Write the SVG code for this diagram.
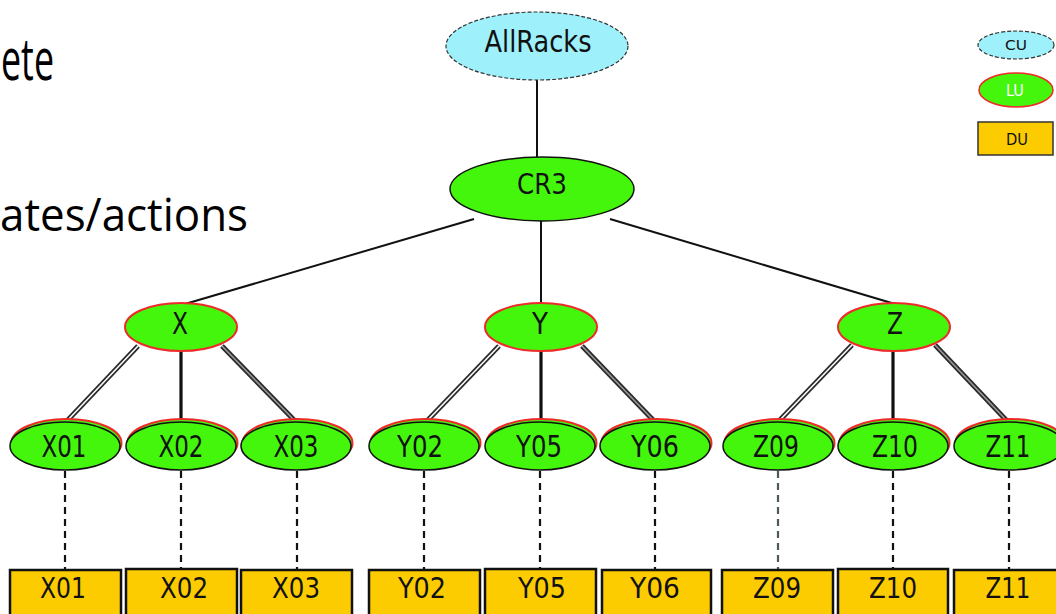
<svg xmlns="http://www.w3.org/2000/svg" width="1056" height="614" viewBox="0 0 1056 614">
<style>
.bg{fill:#ffffff}
.big{font-family:"Open Sans","Noto Sans",sans-serif;fill:#000}
.lbl{font-family:"DejaVu Sans",sans-serif;fill:#111;text-anchor:middle}
.cu{fill:#9ef0fb;stroke:#333;stroke-width:1.2;stroke-dasharray:4 2}
.cr{fill:#44f60c;stroke:#111;stroke-width:1.5}
.lu{fill:#44f60c;stroke:#ee2a2a;stroke-width:2}
.leafr{fill:#44f60c;stroke:#ee2a2a;stroke-width:2}
.leaf{fill:#44f60c;stroke:#111;stroke-width:1.5}
.du{fill:#fdcc00;stroke:#111;stroke-width:2.5}
.solid{stroke:#111;stroke-width:2;fill:none}
.thick{stroke:#111;stroke-width:3.2;fill:none}
.dblo{stroke:#2a2a2a;stroke-width:5;fill:none}
.dbli{stroke:#ffffff;stroke-width:1.6;fill:none}
.dbli2{stroke:#9a9a9a;stroke-width:1.6;fill:none}
.dash{stroke:#111;stroke-width:2.2;stroke-dasharray:7 5;fill:none}
</style>
<rect class="bg" x="0" y="0" width="1056" height="614"/>

<g id="slide-text">
<text class="big" x="1" y="80" font-size="58" textLength="53" lengthAdjust="spacingAndGlyphs">ete</text>
<text class="big" x="0" y="231" font-size="46" textLength="248" lengthAdjust="spacingAndGlyphs">ates/actions</text>
</g>

<g id="connectors">
<line class="solid" x1="537" y1="80" x2="537" y2="158"/>
<line class="solid" x1="474" y1="219" x2="185" y2="304"/>
<line class="solid" x1="541" y1="220" x2="541" y2="304"/>
<line class="solid" x1="610" y1="219" x2="895" y2="304"/>
<!-- X -->
<line class="dblo" x1="138" y1="346" x2="66" y2="422"/>
<line class="dbli" x1="138" y1="346" x2="66" y2="422"/>
<line class="thick" x1="181" y1="351" x2="181" y2="423"/>
<line class="dblo" x1="222" y1="346" x2="296" y2="422"/>
<line class="dbli2" x1="222" y1="346" x2="296" y2="422"/>
<!-- Y -->
<line class="dblo" x1="499" y1="346" x2="426" y2="422"/>
<line class="dbli" x1="499" y1="346" x2="426" y2="422"/>
<line class="thick" x1="541" y1="351" x2="541" y2="423"/>
<line class="dblo" x1="582" y1="346" x2="655" y2="422"/>
<line class="dbli2" x1="582" y1="346" x2="655" y2="422"/>
<!-- Z -->
<line class="dblo" x1="852" y1="345" x2="778" y2="422"/>
<line class="dbli" x1="852" y1="345" x2="778" y2="422"/>
<line class="thick" x1="893" y1="351" x2="893" y2="423"/>
<line class="dblo" x1="935" y1="345" x2="1008" y2="422"/>
<line class="dbli2" x1="935" y1="345" x2="1008" y2="422"/>
<!-- dashed to DUs -->
<line class="dash" x1="65" y1="471" x2="65" y2="570"/>
<line class="dash" x1="181" y1="471" x2="181" y2="569"/>
<line class="dash" x1="297" y1="471" x2="297" y2="570"/>
<line class="dash" x1="424" y1="471" x2="424" y2="570"/>
<line class="dash" x1="540" y1="471" x2="540" y2="569"/>
<line class="dash" x1="655" y1="471" x2="655" y2="570"/>
<line class="dash" x1="778" y1="471" x2="778" y2="570" style="stroke:#4a5a5c"/>
<line class="dash" x1="893" y1="471" x2="893" y2="569"/>
<line class="dash" x1="1009" y1="471" x2="1009" y2="570"/>
</g>

<g id="AllRacks">
<ellipse class="cu" cx="537" cy="46" rx="91" ry="34"/>
<text class="lbl" x="538" y="52" font-size="30" textLength="107" lengthAdjust="spacingAndGlyphs">AllRacks</text>
</g>
<g id="CR3">
<ellipse class="cr" cx="542" cy="189" rx="92" ry="32"/>
<text class="lbl" x="542" y="194" font-size="28" textLength="50" lengthAdjust="spacingAndGlyphs">CR3</text>
</g>

<g id="X">
<ellipse class="lu" cx="181" cy="327" rx="56" ry="24"/>
<text class="lbl" x="180" y="334" font-size="30" textLength="16" lengthAdjust="spacingAndGlyphs">X</text>
</g>
<g id="Y">
<ellipse class="lu" cx="541" cy="327" rx="56" ry="24"/>
<text class="lbl" x="540" y="334" font-size="30" textLength="16" lengthAdjust="spacingAndGlyphs">Y</text>
</g>
<g id="Z">
<ellipse class="lu" cx="894" cy="327" rx="56" ry="24"/>
<text class="lbl" x="895" y="334" font-size="30" textLength="16" lengthAdjust="spacingAndGlyphs">Z</text>
</g>

<g id="X01-LU"><ellipse class="leafr" cx="66.5" cy="443" rx="55" ry="24"/><ellipse class="leaf" cx="65" cy="446" rx="55" ry="24"/><text class="lbl" x="64" y="457" font-size="30" textLength="45" lengthAdjust="spacingAndGlyphs">X01</text></g>
<g id="X02-LU"><ellipse class="leafr" cx="182.5" cy="443" rx="55" ry="24"/><ellipse class="leaf" cx="181" cy="446" rx="55" ry="24"/><text class="lbl" x="181" y="457" font-size="30" textLength="45" lengthAdjust="spacingAndGlyphs">X02</text></g>
<g id="X03-LU"><ellipse class="leafr" cx="297.5" cy="443" rx="55" ry="24"/><ellipse class="leaf" cx="296" cy="446" rx="55" ry="24"/><text class="lbl" x="296" y="457" font-size="30" textLength="45" lengthAdjust="spacingAndGlyphs">X03</text></g>
<g id="Y02-LU"><ellipse class="leafr" cx="425.5" cy="443" rx="55" ry="24"/><ellipse class="leaf" cx="424" cy="446" rx="55" ry="24"/><text class="lbl" x="420" y="457" font-size="30" textLength="46" lengthAdjust="spacingAndGlyphs">Y02</text></g>
<g id="Y05-LU"><ellipse class="leafr" cx="541.5" cy="443" rx="55" ry="24"/><ellipse class="leaf" cx="540" cy="446" rx="55" ry="24"/><text class="lbl" x="539" y="457" font-size="30" textLength="46" lengthAdjust="spacingAndGlyphs">Y05</text></g>
<g id="Y06-LU"><ellipse class="leafr" cx="656.5" cy="443" rx="55" ry="24"/><ellipse class="leaf" cx="655" cy="446" rx="55" ry="24"/><text class="lbl" x="655" y="457" font-size="30" textLength="48" lengthAdjust="spacingAndGlyphs">Y06</text></g>
<g id="Z09-LU"><ellipse class="leafr" cx="779.5" cy="443" rx="55" ry="24"/><ellipse class="leaf" cx="778" cy="446" rx="55" ry="24"/><text class="lbl" x="776" y="457" font-size="30" textLength="46" lengthAdjust="spacingAndGlyphs">Z09</text></g>
<g id="Z10-LU"><ellipse class="leafr" cx="894.5" cy="443" rx="55" ry="24"/><ellipse class="leaf" cx="893" cy="446" rx="55" ry="24"/><text class="lbl" x="895" y="457" font-size="30" textLength="46" lengthAdjust="spacingAndGlyphs">Z10</text></g>
<g id="Z11-LU"><ellipse class="leafr" cx="1010.5" cy="443" rx="55" ry="24"/><ellipse class="leaf" cx="1009" cy="446" rx="55" ry="24"/><text class="lbl" x="1008" y="457" font-size="30" textLength="45" lengthAdjust="spacingAndGlyphs">Z11</text></g>

<g id="X01-DU"><rect class="du" x="10" y="570" width="111" height="60"/><text class="lbl" x="63" y="598" font-size="29" textLength="46" lengthAdjust="spacingAndGlyphs">X01</text></g>
<g id="X02-DU"><rect class="du" x="126" y="569" width="111" height="60"/><text class="lbl" x="184" y="598" font-size="29" textLength="48" lengthAdjust="spacingAndGlyphs">X02</text></g>
<g id="X03-DU"><rect class="du" x="241" y="570" width="111" height="60"/><text class="lbl" x="296" y="598" font-size="29" textLength="48" lengthAdjust="spacingAndGlyphs">X03</text></g>
<g id="Y02-DU"><rect class="du" x="369" y="570" width="111" height="60"/><text class="lbl" x="422" y="598" font-size="29" textLength="48" lengthAdjust="spacingAndGlyphs">Y02</text></g>
<g id="Y05-DU"><rect class="du" x="485" y="569" width="111" height="60"/><text class="lbl" x="542" y="598" font-size="29" textLength="48" lengthAdjust="spacingAndGlyphs">Y05</text></g>
<g id="Y06-DU"><rect class="du" x="602" y="570" width="109" height="60"/><text class="lbl" x="655" y="598" font-size="29" textLength="50" lengthAdjust="spacingAndGlyphs">Y06</text></g>
<g id="Z09-DU"><rect class="du" x="722" y="570" width="111" height="60"/><text class="lbl" x="777" y="598" font-size="29" textLength="48" lengthAdjust="spacingAndGlyphs">Z09</text></g>
<g id="Z10-DU"><rect class="du" x="838" y="569" width="110" height="60"/><text class="lbl" x="893" y="598" font-size="29" textLength="48" lengthAdjust="spacingAndGlyphs">Z10</text></g>
<g id="Z11-DU"><rect class="du" x="954" y="570" width="111" height="60"/><text class="lbl" x="1008" y="598" font-size="29" textLength="45" lengthAdjust="spacingAndGlyphs">Z11</text></g>

<g id="legend-CU">
<ellipse class="cu" cx="1016" cy="45" rx="38" ry="14"/>
<text class="lbl" x="1016" y="50" font-size="14" textLength="22" lengthAdjust="spacingAndGlyphs">CU</text>
</g>
<g id="legend-LU">
<ellipse class="lu" cx="1016" cy="90" rx="37" ry="17" style="stroke-width:1.5"/>
<text class="lbl" x="1015" y="96" font-size="15" textLength="18" lengthAdjust="spacingAndGlyphs" style="fill:#ffffff">LU</text>
</g>
<g id="legend-DU">
<rect class="du" x="978" y="122" width="75" height="33" style="stroke-width:1.5;stroke:#333"/>
<text class="lbl" x="1017" y="145" font-size="15" textLength="22" lengthAdjust="spacingAndGlyphs">DU</text>
</g>
</svg>
